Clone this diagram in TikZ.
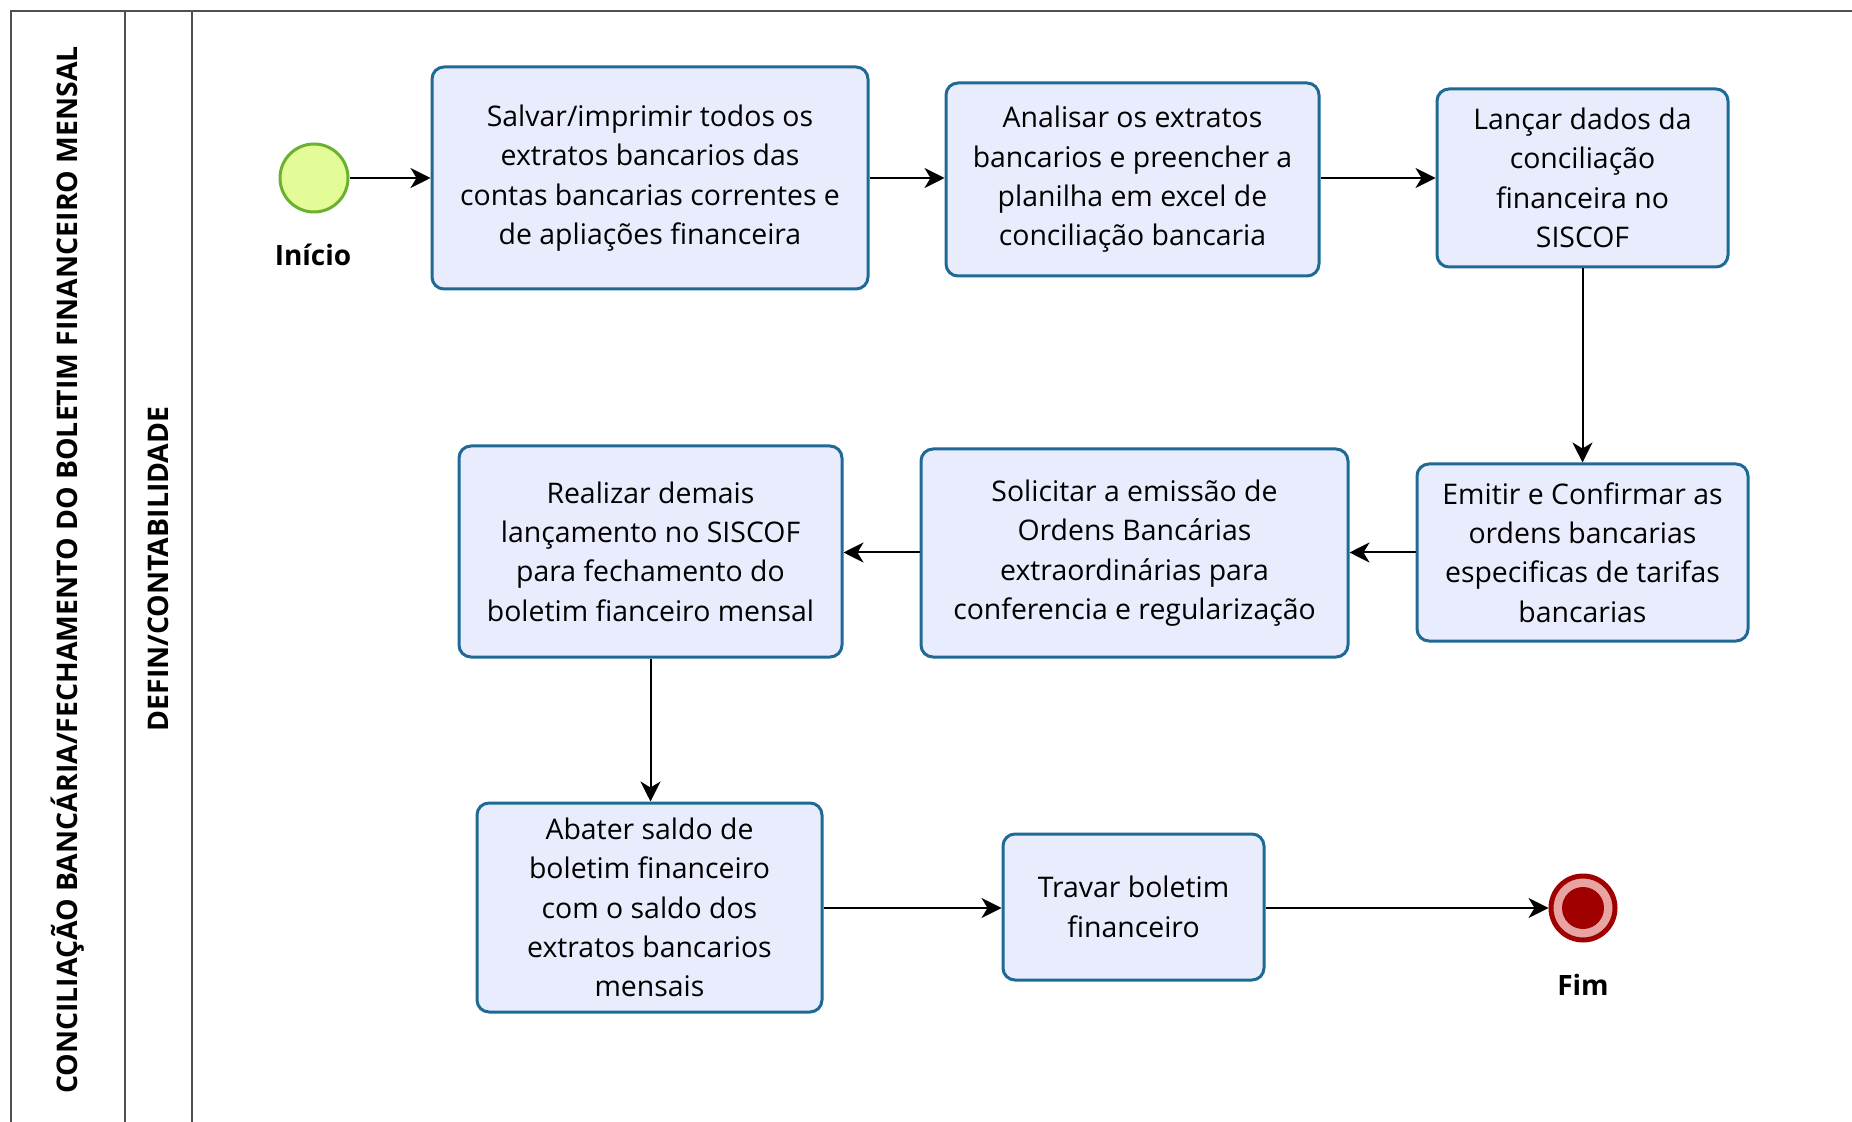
\documentclass[tikz,border=0pt]{standalone}
\usepackage{fontspec}
\setmainfont{Open Sans}
\usetikzlibrary{arrows.meta}
\definecolor{boxfill}{HTML}{E8ECFC}
\definecolor{boxdraw}{HTML}{1E6A94}
\definecolor{startfill}{HTML}{E3FC98}
\definecolor{startdraw}{HTML}{6AB22E}
\definecolor{endred}{HTML}{A00000}
\definecolor{endpink}{HTML}{E8A3A3}
\definecolor{poolline}{HTML}{505050}
\tikzset{
  task/.style={draw=boxdraw, fill=boxfill, line width=1.5pt, rounded corners=6pt,
    align=center, font=\fontsize{14.2}{19.7}\selectfont, inner sep=2pt},
  flow/.style={line width=1pt, -{Stealth[length=10pt,width=10pt,inset=3pt]}},
  evlabel/.style={font=\fontsize{14}{16}\selectfont\bfseries},
  lanetitle/.style={font=\fontsize{14.2}{16}\selectfont\bfseries, rotate=90},
}
\begin{document}
\begin{tikzpicture}[x=0.5pt,y=-0.5pt]
\useasboundingbox (0,0) rectangle (1852,1122);
\fill[white] (0,0) rectangle (1852,1122);
% pool frame
\draw[poolline, line width=1pt] (11,1130) -- (11,11) -- (1860,11);
\draw[poolline, line width=1pt] (125,11) -- (125,1130);
\draw[poolline, line width=1pt] (192,11) -- (192,1130);
\node[lanetitle] (pool) at (68,570) {CONCILIAÇÃO BANCÁRIA/FECHAMENTO DO BOLETIM FINANCEIRO MENSAL};
\node[lanetitle] (lane) at (158,569) {DEFIN/CONTABILIDADE};
% events
\node[circle, draw=startdraw, fill=startfill, line width=1.5pt, minimum size=34pt, inner sep=0pt] (start) at (314,178) {};
\node[evlabel] (startlbl) at (313,255) {Início};
\node[circle, draw=endred, fill=endpink, line width=2.5pt, minimum size=32pt, inner sep=0pt] (end) at (1583,908) {};
\node[circle, fill=endred, minimum size=21pt, inner sep=0pt] (endin) at (1583,908) {};
\node[evlabel] (endlbl) at (1583,985) {Fim};
% tasks
\node[task, minimum width=218pt, minimum height=111pt] (t1) at (650,178) {Salvar/imprimir todos os\\extratos bancarios das\\contas bancarias correntes e\\de apliações financeira};
\node[task, minimum width=186.5pt, minimum height=96.5pt] (t2) at (1132.5,179.5) {Analisar os extratos\\bancarios e preencher a\\planilha em excel de\\conciliação bancaria};
\node[task, minimum width=145.5pt, minimum height=89pt] (t3) at (1582.5,178) {Lançar dados da\\conciliação\\financeira no\\SISCOF};
\node[task, minimum width=165.5pt, minimum height=88.5pt] (t4) at (1582.5,552.5) {Emitir e Confirmar as\\ordens bancarias\\especificas de tarifas\\bancarias};
\node[task, minimum width=213.5pt, minimum height=104pt] (t5) at (1134.5,553) {Solicitar a emissão de\\Ordens Bancárias\\extraordinárias para\\conferencia e regularização};
\node[task, minimum width=191.5pt, minimum height=105.5pt] (t6) at (650.5,551.5) {Realizar demais\\lançamento no SISCOF\\para fechamento do\\boletim fianceiro mensal};
\node[task, minimum width=172.5pt, minimum height=104.5pt] (t7) at (649.5,907.5) {Abater saldo de\\boletim financeiro\\com o saldo dos\\extratos bancarios\\mensais};
\node[task, minimum width=130.5pt, minimum height=73pt] (t8) at (1133.5,907) {Travar boletim\\financeiro};
% flows
\draw[flow] (start) -- (t1.west |- start);
\draw[flow] (t1.east |- start) -- (t2.west |- start);
\draw[flow] (t2.east |- start) -- (t3.west |- start);
\draw[flow] (t3) -- (t4);
\draw[flow] (t4.west) -- (t5.east |- t4.west);
\draw[flow] (t5.west |- t4.west) -- (t6.east |- t4.west);
\draw[flow] (t6) -- (t6 |- t7.north);
\draw[flow] (t7.east |- end) -- (t8.west |- end);
\draw[flow] (t8.east |- end) -- (end);
\end{tikzpicture}
\end{document}
